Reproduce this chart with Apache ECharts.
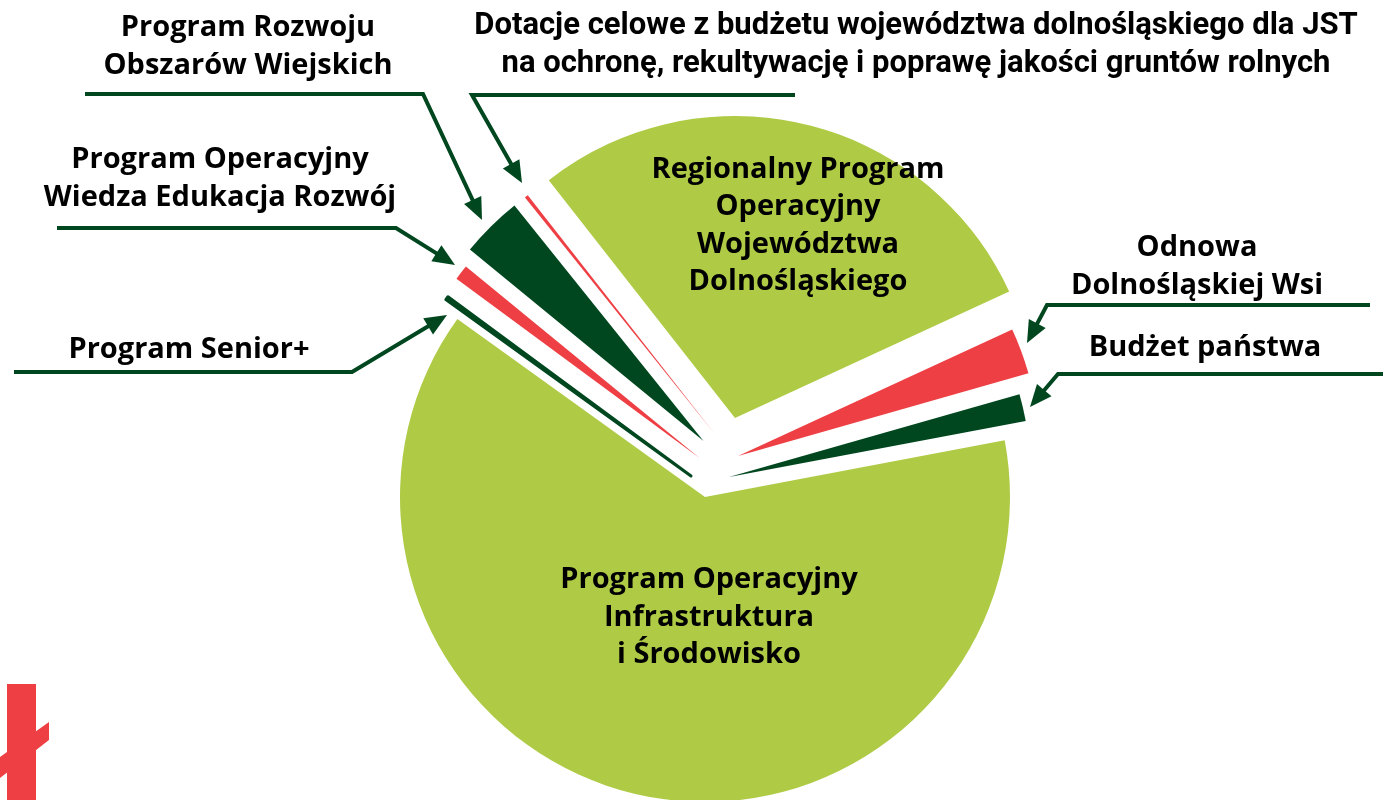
<!DOCTYPE html>
<html><head><meta charset="utf-8">
<script src="https://cdn.jsdelivr.net/npm/echarts@6/dist/echarts.min.js"></script>
<style>html,body{margin:0;padding:0;background:#fff}#chart{width:1396px;height:800px}</style>
</head><body><div id="chart"></div>
<script>
// ---------- DATA ----------
const categories = [
  'Budżet państwa',
  'Odnowa Dolnośląskiej Wsi',
  'Regionalny Program Operacyjny Województwa Dolnośląskiego',
  'Dotacje celowe z budżetu województwa dolnośląskiego dla JST na ochronę, rekultywację i poprawę jakości gruntów rolnych',
  'Program Rozwoju Obszarów Wiejskich',
  'Program Operacyjny Wiedza Edukacja Rozwój',
  'Program Senior+',
  'Program Operacyjny Infrastruktura i Środowisko'
];
// share of funding (%)
const shares = [1.44, 2.47, 28.69, 0.19, 3.31, 0.81, 0.19, 62.89];
const labelTexts = [
  'Budżet państwa',
  'Odnowa\nDolnośląskiej Wsi',
  'Regionalny Program\nOperacyjny\nWojewództwa\nDolnośląskiego',
  'Dotacje celowe z budżetu województwa dolnośląskiego dla JST\nna ochronę, rekultywację i poprawę jakości gruntów rolnych',
  'Program Rozwoju\nObszarów Wiejskich',
  'Program Operacyjny\nWiedza Edukacja Rozwój',
  'Program Senior+',
  'Program Operacyjny\nInfrastruktura\ni Środowisko'
];

// ---------- STYLE / LAYOUT ----------
const LIGHT = '#AFCB46', DARK = '#00471F', RED = '#EE4044';
const sliceColors = [DARK, RED, LIGHT, RED, DARK, RED, DARK, LIGHT];
const sliceBorders = [0, 0, 0, 0, 0, 0, 3, 0];
// each slice is pulled out of the pie on its own (exploded layout)
const sliceCenters = [[729,477],[738,456],[735,418],[714,433],[703.5,441],[699.5,458],[691,476],[705,497]];
const sliceRadii = [302, 302, 302, 302, 302, 302, 302, 305];
const START = 10.7;
const labelPos = [[1205,348],[1197,266.5],[798,225.5],[916,45],[248,46.5],[220,178.5],[189,349.5],[709,617.5]];
const labelFonts = ['Open Sans','Open Sans','Open Sans','Roboto','Open Sans','Open Sans','Open Sans','Open Sans'];
const labelSizes = [29, 29, 29, 31, 29, 29, 29, 29];
const leaders = [
  [[1383,374],[1058,374],[1030,407]],
  [[1370,305],[1047,305],[1027,343]],
  null,
  [[795,95],[472,95],[522,183]],
  [[85,94],[423,94],[482,220]],
  [[57,228],[396,228],[455,265]],
  [[14,372],[352,372],[447,315]],
  null
];

const series = categories.map((cat, i) => ({
  type: 'pie',
  silent: true,
  animation: false,
  center: sliceCenters[i],
  radius: sliceRadii[i],
  startAngle: START,
  clockwise: false,
  avoidLabelOverlap: false,
  label: { show: false },
  labelLine: { show: false },
  labelLayout: { x: labelPos[i][0], y: labelPos[i][1], align: 'center', verticalAlign: 'middle' },
  data: categories.map((n, j) => ({
    name: n,
    value: shares[j],
    itemStyle: j === i
      ? { color: sliceColors[j], borderColor: sliceColors[j], borderWidth: sliceBorders[j] }
      : { color: 'rgba(0,0,0,0)', borderWidth: 0 },
    label: j === i ? {
      show: true, position: 'inside',
      formatter: labelTexts[j],
      color: '#000', fontFamily: labelFonts[j], fontWeight: 'bold',
      fontSize: labelSizes[j], lineHeight: 37.5, align: 'center'
    } : { show: false }
  }))
}));

// leader lines with arrowheads
const graphics = [];
leaders.forEach(pts => {
  if (!pts) return;
  const a = pts[1], t = pts[2];
  const dx = t[0]-a[0], dy = t[1]-a[1], L = Math.hypot(dx, dy);
  const ux = dx/L, uy = dy/L, AL = 22, AW = 9.5;
  const base = [t[0]-ux*AL, t[1]-uy*AL];
  graphics.push({ type: 'polyline', silent: true,
    shape: { points: [pts[0], pts[1], [t[0]-ux*(AL-3), t[1]-uy*(AL-3)]] },
    style: { stroke: DARK, lineWidth: 4, fill: null, lineJoin: 'miter' } });
  graphics.push({ type: 'polygon', silent: true,
    shape: { points: [t, [base[0]-uy*AW, base[1]+ux*AW], [base[0]+uy*AW, base[1]-ux*AW]] },
    style: { fill: DARK } });
});
// red logo fragment, bottom-left
graphics.push({ type: 'rect', silent: true, shape: { x: 7, y: 684, width: 29, height: 116 }, style: { fill: RED } });
graphics.push({ type: 'polygon', silent: true, shape: { points: [[0,757],[49,722],[49,740],[0,778]] }, style: { fill: RED } });

const chart = echarts.init(document.getElementById('chart'), null, { renderer: 'canvas' });
chart.setOption({ animation: false, backgroundColor: '#fff', series, graphic: graphics });
</script></body></html>
